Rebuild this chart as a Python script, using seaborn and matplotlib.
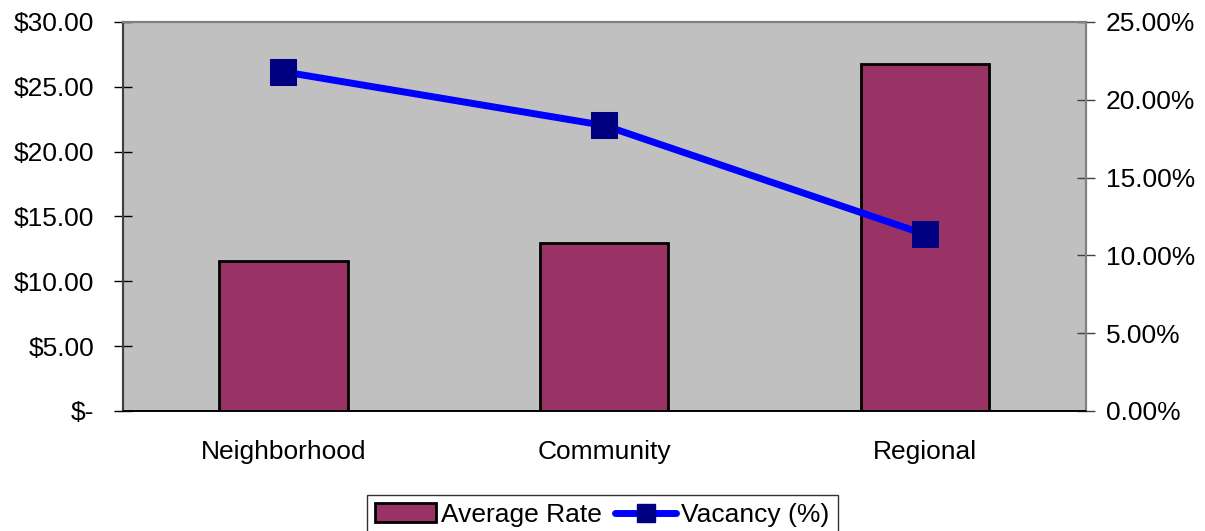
import numpy as np
import pandas as pd
import matplotlib
matplotlib.use("Agg")
import matplotlib.pyplot as plt
from matplotlib.ticker import FuncFormatter, FixedLocator
from matplotlib.patches import Patch
from matplotlib.lines import Line2D
import seaborn as sns

# data
categories = ["Neighborhood", "Community", "Regional"]
avg_rate = [11.6, 12.95, 26.75]
vacancy = [21.8, 18.35, 11.35]

df = pd.DataFrame({"Category": categories, "Average Rate": avg_rate, "Vacancy": vacancy})

sns.set_style("white")
plt.rcParams["font.family"] = ["Liberation Sans", "DejaVu Sans"]
plt.rcParams["text.color"] = "black"
plt.rcParams["xtick.color"] = "black"
plt.rcParams["ytick.color"] = "black"

FS = 19

fig = plt.figure(figsize=(12.05, 5.31), dpi=100)
ax = fig.add_axes([0.102, 0.226, 0.799, 0.7326])
ax.set_facecolor("#C0C0C0")

sns.barplot(data=df, x="Category", y="Average Rate", color="#993366", width=0.4,
            edgecolor="black", linewidth=2, saturation=1, ax=ax, zorder=2)
ax.set_xlim(-0.5, 2.5)
ax.set_ylim(0, 30)
ax.set_yticks(np.arange(0, 31, 5))
ax.yaxis.set_major_formatter(FuncFormatter(lambda v, p: "$-" if v == 0 else f"${v:.2f}"))
ax.set_xlabel("")
ax.set_ylabel("")

ax.tick_params(axis="x", which="major", length=0, pad=21, labelsize=FS, labelcolor="black")
ax.xaxis.set_minor_locator(FixedLocator([-0.5, 0.5, 1.5, 2.5]))
ax.tick_params(axis="x", which="minor", direction="inout", length=13, width=1, color="black")
ax.tick_params(axis="y", direction="inout", length=13, width=1, color="black",
               labelsize=FS, labelcolor="black", pad=14)

ax2 = ax.twinx()
sns.lineplot(data=df, x="Category", y="Vacancy", color="#0000FF", linewidth=5,
             marker="s", markersize=19, markerfacecolor="#000080", markeredgecolor="#000080",
             sort=False, ax=ax2, zorder=3)
ax2.set_ylim(0, 25)
ax2.set_yticks(np.arange(0, 26, 5))
ax2.yaxis.set_major_formatter(FuncFormatter(lambda v, p: f"{v:.2f}%"))
ax2.set_ylabel("")
ax2.tick_params(axis="y", direction="inout", length=13, width=1, color="#404040",
                labelsize=FS, labelcolor="black", pad=8)

for a in (ax, ax2):
    for s in ["right", "top"]:
        a.spines[s].set_color("#808080")
        a.spines[s].set_linewidth(1.5)
    a.spines["left"].set_color("#404040")
    a.spines["left"].set_linewidth(1.5)
    a.spines["bottom"].set_color("black")
    a.spines["bottom"].set_linewidth(1.2)

handles = [Patch(facecolor="#993366", edgecolor="black", linewidth=2),
           Line2D([0], [0], color="#0000FF", linewidth=5, marker="s", markersize=13,
                  markerfacecolor="#000080", markeredgecolor="#000080")]
leg = fig.legend(handles, ["Average Rate", "Vacancy (%)"], loc="upper center",
                 bbox_to_anchor=(0.5, 0.068), ncol=2, frameon=True, fancybox=False,
                 fontsize=FS, handlelength=2.3, handleheight=0.7, handletextpad=0.2,
                 columnspacing=0.5, borderpad=0.3, borderaxespad=0)
leg.get_frame().set_edgecolor("black")
leg.get_frame().set_linewidth(1)

fig.savefig("out.png", dpi=100, facecolor="white")
